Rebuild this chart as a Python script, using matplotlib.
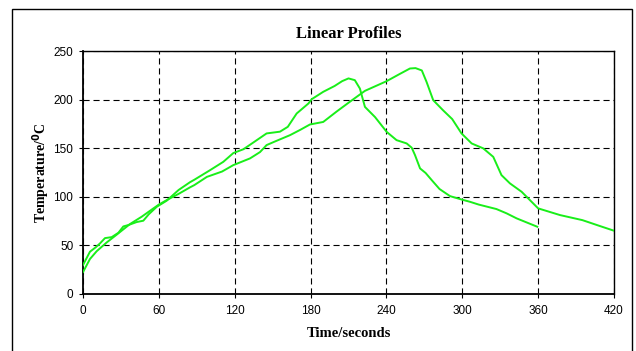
import matplotlib
matplotlib.use("Agg")
import matplotlib.pyplot as plt
from matplotlib.patches import Rectangle

# Profile 1 (peaks near 210 s)
t1 = [0, 5.5, 10, 13.4, 17.4, 22.7, 28, 31.9, 36, 42.4, 47.7, 52, 58.3, 66.2, 75.6, 84.6, 88,
      100, 111, 118.9, 127, 136, 145.2, 155.8, 162, 169, 178.3, 181, 190, 199, 205,
      210, 215, 219, 223, 231, 240.2, 248, 256, 260, 262.6, 266.6, 271, 275.8, 282,
      290.3, 300, 306, 313, 327, 335, 343, 359.3]
v1 = [29.8, 43.5, 48, 52, 57.5, 58.5, 63, 69.5, 71, 74, 75.4, 82, 89.7, 96, 107, 115, 117.5,
      127, 136, 145, 149, 157, 165.2, 167, 172, 185.7, 196, 200.5, 208, 214, 219,
      221.8, 220, 211.4, 192.5, 182, 166.8, 158.3, 154.9, 150.5, 142.9, 129.2, 124.5, 117.2, 108,
      100.7, 97, 94.9, 92, 87.4, 83, 77.8, 69.2]

# Profile 2 (peaks near 260 s)
t2 = [0, 5.5, 10.8, 18.7, 26.6, 37.2, 46.4, 55.6, 60, 66.2, 75.6, 84.6, 88, 98, 110, 118.9,
      132.1, 140, 145.2, 152, 163.7, 172, 179.5, 190, 200.6, 211, 223, 240.2, 250, 258.6,
      263, 268, 271.8, 277, 284.8, 292, 299.4, 307.4, 316.6, 324.5, 331, 337.7, 346.9, 360,
      377.3, 395, 408.9, 420]
v2 = [22.5, 36, 44, 53, 61, 72, 79.5, 88, 92, 96.6, 103, 109.7, 112, 120.5, 126, 132.6,
      139.5, 146, 153.2, 157, 163.4, 169, 174.4, 177, 187.7, 197.7, 209, 219, 226, 232,
      232.4, 230, 218, 199.4, 189, 180, 165.2, 154.9, 149.8, 141.1, 122.3, 113.8, 105.2, 88.1,
      81.2, 76, 69.9, 65.1]

x_ticks = [0, 60, 120, 180, 240, 300, 360, 420]
y_ticks = [0, 50, 100, 150, 200, 250]

fig = plt.figure(figsize=(6.36, 3.51), dpi=100)
fig.patch.set_facecolor("white")
fig.patches.append(Rectangle((12 / 636, -0.05), (632 - 12) / 636, 1.05 - 9 / 351,
                             transform=fig.transFigure, fill=False,
                             edgecolor="black", linewidth=1.0))

ax = fig.add_axes([83 / 636, 1 - 294 / 351, (614 - 83) / 636, (294 - 51) / 351])
green = "#19ee19"
ax.plot(t1, v1, color=green, linewidth=1.4, zorder=3)
ax.plot(t2, v2, color=green, linewidth=1.4, zorder=3)

ax.set_xlim(0, 420)
ax.set_ylim(0, 250)
ax.set_xticks(x_ticks)
ax.set_yticks(y_ticks)
ax.grid(True, color="black", linestyle=(0, (5.5, 3.5)), linewidth=0.8)
ax.set_axisbelow(True)
for s in ax.spines.values():
    s.set_linewidth(1.0)
    s.set_color("black")
ax.spines["left"].set_linewidth(1.3)
ax.spines["bottom"].set_linewidth(1.3)
ax.tick_params(direction="out", length=3, width=0.8, labelsize=8.5, pad=4)
ax.tick_params(axis="x", pad=5)
for lab in ax.get_xticklabels() + ax.get_yticklabels():
    lab.set_fontfamily("Liberation Sans")

ax.set_title("Linear Profiles", fontfamily="Liberation Serif", fontweight="bold",
             fontsize=12, pad=9)
ax.set_xlabel("Time/seconds", fontfamily="Liberation Serif", fontweight="bold",
              fontsize=10.5, labelpad=7)
ax.set_ylabel("Temperature/$\\mathbf{^0}$C", fontfamily="Liberation Serif",
              fontweight="bold", fontsize=10, labelpad=1)

fig.savefig("out.png", dpi=100, facecolor="white")
